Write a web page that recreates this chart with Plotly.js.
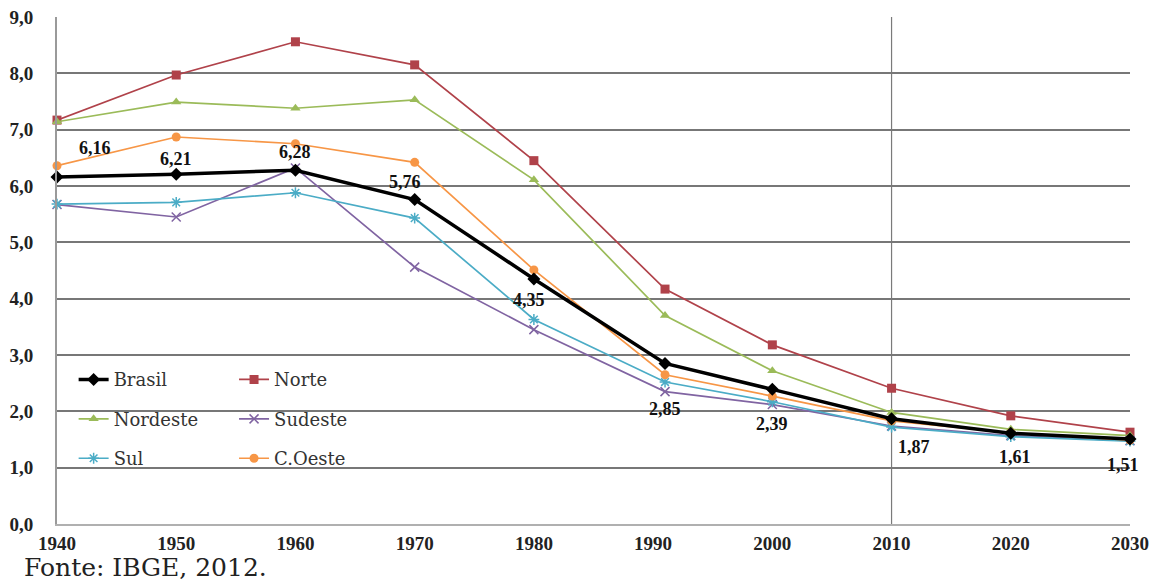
<!DOCTYPE html>
<html>
<head>
<meta charset="utf-8">
<script src="https://cdn.plot.ly/plotly-3.0.1.min.js"></script>
<style>
  html, body { margin: 0; padding: 0; background: #fff; }
  #chart { width: 1161px; height: 583px; }
</style>
</head>
<body>
<div id="chart"></div>
<script>
// Taxa de fecundidade total por região, 1940–2030 (censos e projeções)
const years = [1940, 1950, 1960, 1970, 1980, 1991, 2000, 2010, 2020, 2030];

const brasil   = [6.16, 6.21, 6.28, 5.76, 4.35, 2.85, 2.39, 1.87, 1.61, 1.51];
const norte    = [7.17, 7.97, 8.56, 8.15, 6.45, 4.17, 3.18, 2.41, 1.92, 1.63];
const nordeste = [7.14, 7.49, 7.38, 7.53, 6.11, 3.70, 2.72, 1.98, 1.68, 1.57];
const sudeste  = [5.67, 5.45, 6.32, 4.56, 3.45, 2.35, 2.12, 1.74, 1.57, 1.48];
const sul      = [5.68, 5.71, 5.88, 5.43, 3.63, 2.52, 2.17, 1.72, 1.55, 1.47];
const cOeste   = [6.36, 6.87, 6.75, 6.42, 4.51, 2.65, 2.27, 1.83, 1.62, 1.49];

const xTicks = [1940, 1950, 1960, 1970, 1980, 1990, 2000, 2010, 2020, 2030];
const projectionStart = 2010;

// pixel offsets of each Brasil value label from its marker
const labelDx = [38, 0, 0, -10, -5, 0, 0, 22, 4, -7];
const labelDy = [29, 15, 18, 18, -21, -46, -35, -28, -24, -26];

const serif = 'Liberation Serif';
const plainSerif = 'DejaVu Serif';

function series(name, y, color, symbol, legend, rank, opts) {
  opts = opts || {};
  return {
    type: 'scatter', mode: 'lines+markers', name: name,
    x: years, y: y,
    legend: legend, legendrank: rank, legendgroup: name,
    line: { color: color, width: opts.width || 1.7 },
    marker: {
      symbol: symbol, size: opts.size || 9, color: color,
      line: { color: color, width: opts.mlw || 0 }
    },
    cliponaxis: false,
    hoverinfo: 'x+y+name'
  };
}

const traces = [
  series('Norte', norte, '#b0424a', 'square', 'legend2', 1),
  series('Nordeste', nordeste, '#9bbb59', 'triangle-up', 'legend', 2),
  series('Sudeste', sudeste, '#8064a2', 'x-thin-open', 'legend2', 2, { mlw: 1.5, size: 9 }),
  series('Sul', sul, '#4bacc6', 'asterisk-open', 'legend', 3, { mlw: 1.5, size: 9 }),
  series('C.Oeste', cOeste, '#f79646', 'circle', 'legend2', 3),
  series('Brasil', brasil, '#000000', 'diamond', 'legend', 1, { width: 3.5, size: 10 })
];

const brasilLabels = years.map((yr, i) => ({
  x: yr, y: brasil[i], xref: 'x', yref: 'y',
  text: '<b>' + brasil[i].toFixed(2).replace('.', ',') + '</b>',
  showarrow: false, xshift: labelDx[i], yshift: labelDy[i],
  font: { family: serif, size: 18, color: '#111' }
}));

function legendBox(x) {
  return {
    x: x, y: 0.321, xanchor: 'left', yanchor: 'top',
    bgcolor: 'rgba(0,0,0,0)',
    font: { family: plainSerif, size: 18, color: '#333' },
    tracegroupgap: 13,
    itemwidth: 30
  };
}

const tickFont = { family: serif, size: 19, color: '#222', weight: 'bold' };

const layout = {
  width: 1161, height: 583,
  margin: { l: 57, r: 31, t: 17, b: 59 },
  paper_bgcolor: '#ffffff', plot_bgcolor: '#ffffff',
  font: { family: plainSerif, color: '#333' },
  separators: ',.',
  showlegend: true,
  legend: legendBox(0.0155),
  legend2: legendBox(0.165),
  xaxis: {
    range: [1940, 2030],
    tickmode: 'array', tickvals: xTicks,
    showgrid: false, zeroline: false,
    showline: true, linecolor: '#b0b0b0', linewidth: 2,
    ticks: '', ticklen: 0, ticklabelstandoff: 1,
    tickfont: tickFont
  },
  yaxis: {
    range: [0, 9], dtick: 1, tickformat: '.1f',
    showgrid: true, gridcolor: '#777777', gridwidth: 2,
    zeroline: false,
    showline: true, linecolor: '#9a9a9a', linewidth: 2,
    ticks: '', ticklen: 0, ticklabelstandoff: 18,
    tickfont: tickFont
  },
  shapes: [{
    type: 'line', xref: 'x', yref: 'y',
    x0: projectionStart, x1: projectionStart, y0: 0, y1: 9,
    line: { color: '#7a7a7a', width: 1.2 }, layer: 'below'
  }],
  annotations: brasilLabels.concat([{
    text: 'Fonte: IBGE, 2012.', xref: 'paper', yref: 'paper',
    x: -0.033, y: -0.0867, xanchor: 'left', yanchor: 'middle',
    showarrow: false,
    font: { family: plainSerif, size: 25, color: '#222' }
  }])
};

Plotly.newPlot('chart', traces, layout, { displayModeBar: false, staticPlot: true });
</script>
</body>
</html>
